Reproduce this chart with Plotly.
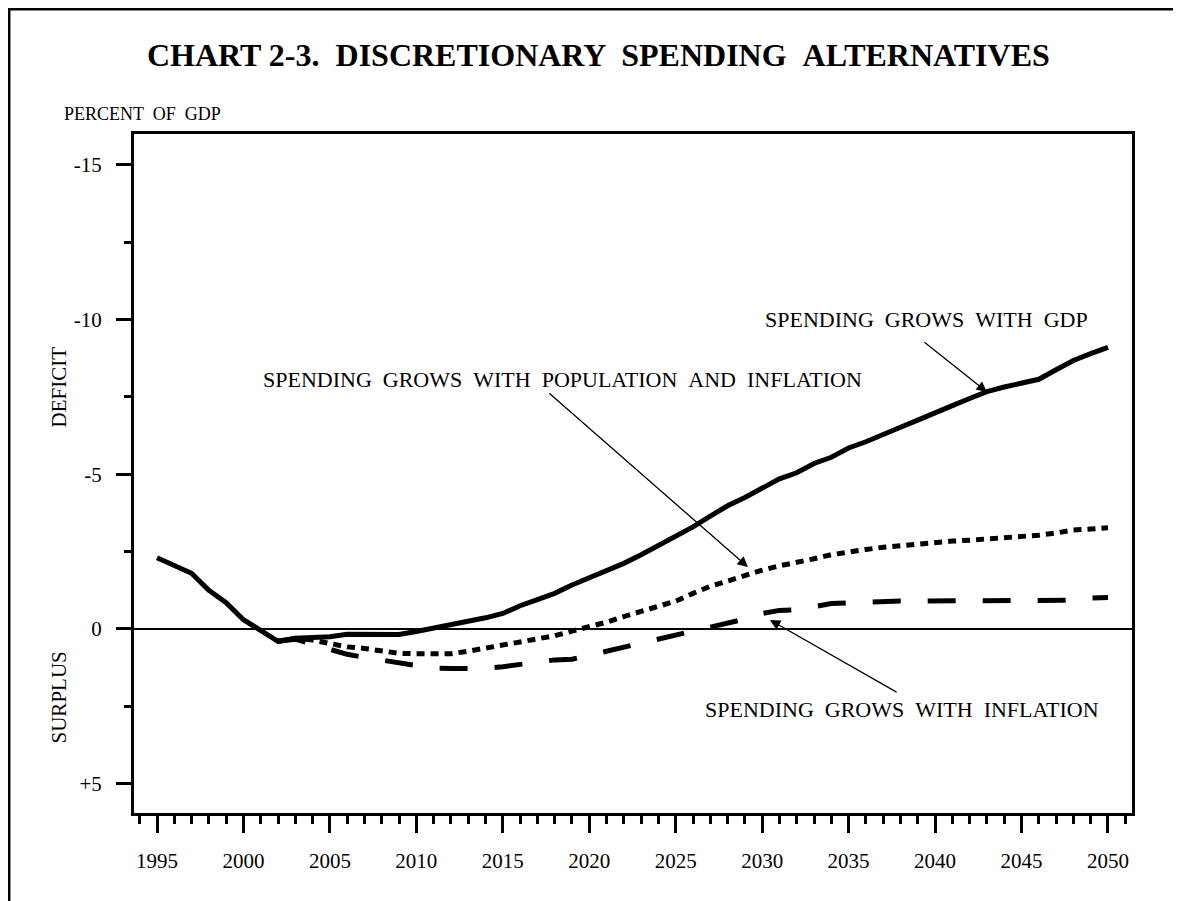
import plotly.graph_objects as go

years = list(range(1995, 2051))
alt_years = list(range(2002, 2051))

# percent of GDP, negative = deficit (axis shows deficit upward)
grows_with_gdp = [
    -2.3, -2.05, -1.8, -1.25, -0.85, -0.3, 0.05, 0.4, 0.3, 0.27,
    0.25, 0.17, 0.17, 0.18, 0.18, 0.08, -0.02, -0.13, -0.24, -0.36,
    -0.5, -0.75, -0.95, -1.15, -1.42, -1.65, -1.9, -2.12, -2.4, -2.7,
    -3.0, -3.3, -3.65, -3.98, -4.25, -4.55, -4.85, -5.05, -5.35, -5.55,
    -5.85, -6.05, -6.3, -6.52, -6.75, -7.0, -7.22, -7.45, -7.67, -7.82,
    -7.95, -8.07, -8.38, -8.68, -8.9, -9.1,
]
grows_with_pop_infl = [
    0.4, 0.3, 0.36, 0.48, 0.58, 0.63, 0.72, 0.79, 0.8, 0.8,
    0.8, 0.72, 0.62, 0.55, 0.46, 0.36, 0.22, 0.07, -0.06, -0.22,
    -0.4, -0.57, -0.75, -0.9, -1.15, -1.38, -1.55, -1.73, -1.9, -2.04,
    -2.14, -2.27, -2.4, -2.5, -2.57, -2.64, -2.7, -2.75, -2.8, -2.84,
    -2.87, -2.9, -2.93, -2.98, -3.03, -3.1, -3.2, -3.23, -3.27,
]
grows_with_infl = [
    0.4, 0.33, 0.5, 0.68, 0.82, 0.92, 1.0, 1.1, 1.2, 1.27,
    1.28, 1.28, 1.28, 1.22, 1.15, 1.05, 1.0, 0.98, 0.85, 0.68,
    0.57, 0.43, 0.3, 0.17, 0.04, -0.08, -0.2, -0.32, -0.5, -0.6,
    -0.62, -0.72, -0.82, -0.84, -0.87, -0.9, -0.9, -0.9, -0.9, -0.9,
    -0.9, -0.9, -0.9, -0.9, -0.9, -0.9, -0.93, -1.0, -1.02,
]

y_tickvals = [-15, -10, -5, 0, 5]
y_ticktext = ['-15', '-10', '-5', '0', '+5']

SERIF = 'Liberation Serif'
NB = '\u00a0'

fig = go.Figure()
fig.add_trace(go.Scatter(x=alt_years, y=grows_with_infl, mode='lines',
                         line=dict(color='black', width=5, dash='28px,27px')))
fig.add_trace(go.Scatter(x=alt_years, y=grows_with_pop_infl, mode='lines',
                         line=dict(color='black', width=5, dash='8px,6px')))
fig.add_trace(go.Scatter(x=years, y=grows_with_gdp, mode='lines',
                         line=dict(color='black', width=5)))

# labels with arrows
labels = [
    ('SPENDING  GROWS  WITH  GDP', 2039.48, -9.99, (2039.3, -9.31), (2043.0, -7.66)),
    ('SPENDING  GROWS  WITH  POPULATION  AND  INFLATION', 2018.48, -8.08,
     (2017.6, -7.66), (2029.18, -2.0)),
    ('SPENDING  GROWS  WITH  INFLATION', 2038.09, 2.62, (2037.86, 2.07), (2030.45, -0.29)),
]
for txt, tx, ty, tail, head in labels:
    fig.add_annotation(x=tx, y=ty, xref='x', yref='y', text=txt.replace('  ', ' ' + NB),
                       showarrow=False, xanchor='center', yanchor='middle',
                       font=dict(family=SERIF, size=22, color='black'))
    fig.add_annotation(x=head[0], y=head[1], ax=tail[0], ay=tail[1],
                       xref='x', yref='y', axref='x', ayref='y', text='',
                       showarrow=True, arrowhead=2, arrowsize=1.6, arrowwidth=1.3,
                       arrowcolor='black')

fig.add_annotation(x=0.4659, y=1.1163, xref='paper', yref='paper',
                   xanchor='center', yanchor='middle',
                   text='<b>CHART 2-3. ' + NB + 'DISCRETIONARY ' + NB + 'SPENDING ' + NB + 'ALTERNATIVES</b>',
                   showarrow=False, font=dict(family=SERIF, size=32, color='black'))
fig.add_annotation(x=-0.0721, y=1.0295, xref='paper', yref='paper',
                   xanchor='left', yanchor='middle',
                   text='PERCENT ' + NB + 'OF ' + NB + 'GDP', showarrow=False,
                   font=dict(family=SERIF, size=18, color='black'))
fig.add_annotation(x=-0.0747, y=0.6274, xref='paper', yref='paper', text='DEFICIT',
                   xanchor='center', yanchor='middle',
                   textangle=-90, showarrow=False, font=dict(family=SERIF, size=21, color='black'))
fig.add_annotation(x=-0.0747, y=0.1708, xref='paper', yref='paper', text='SURPLUS',
                   xanchor='center', yanchor='middle',
                   textangle=-90, showarrow=False, font=dict(family=SERIF, size=21, color='black'))

# outer frame of the page
fig.add_shape(type='rect', xref='paper', yref='paper', x0=-0.1253, x1=1.0461, y0=-0.29, y1=1.184,
              line=dict(color='black', width=3))

fig.update_xaxes(range=[1993.67, 2051.39], tickmode='linear', tick0=1995, dtick=5,
                 ticks='outside', ticklen=17, tickwidth=3, tickcolor='black',
                 showline=True, linewidth=3, linecolor='black', mirror=True,
                 showgrid=False, zeroline=False, ticklabelstandoff=10,
                 tickfont=dict(family=SERIF, size=21, color='black'),
                 minor=dict(tickmode='linear', tick0=1995, dtick=1, ticks='outside',
                            ticklen=8, tickwidth=3, tickcolor='black', showgrid=False))
fig.update_yaxes(range=[5.95, -16.0], tickvals=y_tickvals, ticktext=y_ticktext,
                 ticks='outside', ticklen=15, tickwidth=3, tickcolor='black',
                 showline=True, linewidth=3, linecolor='black', mirror=True,
                 showgrid=False, zeroline=True, zerolinecolor='black', zerolinewidth=2,
                 ticklabelstandoff=10,
                 tickfont=dict(family=SERIF, size=21, color='black'),
                 minor=dict(tickvals=[-12.5, -7.5, -2.5, 2.5], ticks='outside',
                            ticklen=7, tickwidth=3, tickcolor='black', showgrid=False))
fig.update_layout(width=1173, height=893, showlegend=False,
                  margin=dict(l=126, r=49, t=126, b=88),
                  plot_bgcolor='white', paper_bgcolor='white')

fig.write_html("out.html")
